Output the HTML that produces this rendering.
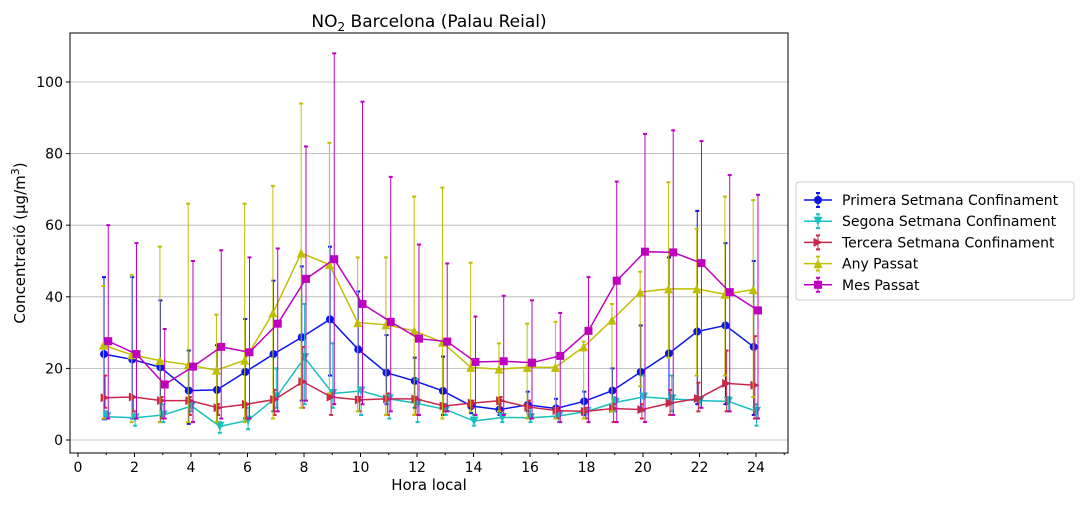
<!DOCTYPE html>
<html><head><meta charset="utf-8"><style>
body{margin:0;background:#fff;font-family:"Liberation Sans","DejaVu Sans",sans-serif}
svg text{font-family:"DejaVu Sans","Liberation Sans",sans-serif}
</style></head><body>
<svg id="c" width="1080" height="504"></svg>
<script>
const hours=[1,2,3,4,5,6,7,8,9,10,11,12,13,14,15,16,17,18,19,20,21,22,23,24];
const names=["Primera Setmana Confinament","Segona Setmana Confinament","Tercera Setmana Confinament","Any Passat","Mes Passat"];
const blueMean=[24,22.5,20.3,13.8,14,19,24,28.7,33.7,25.3,18.8,16.5,13.7,9.5,8.5,9.8,8.8,10.8,13.8,19,24.2,30.3,32,26];
const blueTop=[45.5,45.5,39,25,26.5,33.8,44.5,48.5,54,41.5,29.3,23,23.3,10.5,10,13.5,11.5,13.5,20,32,51,64,55,50];
const blueBot=[5.8,6,5,4.5,5,6,8,11,18,12,10,9,7,7.5,7,8,6.5,7,8,9,10,10,10,7];
const cyanMean=[6.5,6.2,7,9.5,3.8,5.5,12,23,13,13.7,11.5,10.2,8.5,5.3,6.3,6.2,6.7,8,10.5,12,11.5,11,10.8,8];
const cyanTop=[8,8,10,10,5,9,20,38,27,14,13,17,10,7,7,9,8,9,12,18,18,12,12,10];
const cyanBot=[6,4,5,8,2,3,9,10,9,7,6,5,7,4,5,5,5,6,8,8,8,9,8,4];
const redMean=[11.8,12,11,11,9,10,11.3,16.3,12,11.2,11.5,11.5,9.5,10.3,11,9.2,8.2,8,8.8,8.5,10.3,11.6,15.8,15.3];
const redTop=[18,12,12,12,10,10,14,26,13,12,13,12,10,11,12,11,9,9,10,10,14,16,25,29];
const redBot=[9,8,6,7,7,6,7,9,7,8,7,7,8,9,8,6,6,6,5,6,7,8,8,6];
const yelMean=[26.5,23.8,22.2,21,19.5,22.3,35.5,52.2,49,32.8,32.2,30.5,27.3,20.3,19.8,20.3,20.3,26,33.5,41.3,42.2,42.2,40.7,42];
const yelTop=[43,46,54,66,35,66,71,94,83,51,51,68,70.5,49.5,27,32.5,33,27.5,38,47,72,59,68,67];
const yelBot=[6,5,5,5,5,5,6,9,13,8,7,7,6,8,8,6,6,6,8,15,23,18,18,12];
const magMean=[27.6,24,15.5,20.5,26,24.5,32.5,45,50.5,38,33,28.3,27.5,21.8,22,21.6,23.5,30.5,44.5,52.6,52.4,49.4,41.3,36.2];
const magTop=[60,55,31,50,53,51,53.5,82,108,94.5,73.5,54.6,49.3,34.5,40.3,39,35.5,45.5,72.2,85.5,86.5,83.5,74,68.5];
const magBot=[6,6,6,5,6,6,8,11,10,10,8,7,8,7,7,6,5,5,5,5,7,9,8,6];
const xTicks=[0,2,4,6,8,10,12,14,16,18,20,22,24];
const yTicks=[0,20,40,60,80,100];

const L=70,R=788,T=33,B=453;
const X=h=>78+h*28.25, Y=v=>440-v*3.58;
const svg=document.getElementById('c');const NS='http://www.w3.org/2000/svg';
function el(t,a,p){const e=document.createElementNS(NS,t);for(const k in a)e.setAttribute(k,a[k]);(p||svg).appendChild(e);return e;}
function tx(x,y,s,a){const e=el('text',Object.assign({x:x,y:y,'font-size':14,fill:'#000'},a||{}));e.textContent=s;return e;}
// grid
yTicks.forEach(v=>{const g=el('line',{x1:L,x2:R,y1:Y(v),y2:Y(v),stroke:'#b0b0b0','stroke-width':0.8});

el('line',{x1:L-4,x2:L,y1:Y(v),y2:Y(v),stroke:'#000'});
const t=tx(L-7,Y(v)+5,String(v),{'text-anchor':'end'});});
for(let h=0;h<=25;h++){if(X(h)>R)break;el('line',{x1:X(h),x2:X(h),y1:B,y2:B+(h%2?2:4),stroke:'#000'});}
xTicks.forEach(h=>{const t=tx(X(h),B+19,String(h),{'text-anchor':'middle'});});
const series=[
{c:'#0a14f0',m:blueMean,t:blueTop,b:blueBot,off:-0.08,mk:'o',n:'blue'},
{c:'#17bfbf',m:cyanMean,t:cyanTop,b:cyanBot,off:0.02,mk:'v',n:'cyan'},
{c:'#c8284a',m:redMean,t:redTop,b:redBot,off:-0.04,mk:'>',n:'red'},
{c:'#bfbf00',m:yelMean,t:yelTop,b:yelBot,off:-0.1,mk:'^',n:'yellow'},
{c:'#bf00bf',m:magMean,t:magTop,b:magBot,off:0.07,mk:'s',n:'magenta'}];
function marker(k,x,y,c,p){let e;
if(k==='o')e=el('circle',{cx:x,cy:y,r:4,fill:c},p);
else if(k==='s')e=el('rect',{x:x-4,y:y-4,width:8,height:8,fill:c},p);
else{const s=4.5;let pts;
if(k==='^')pts=[[x,y-s],[x-s,y+s],[x+s,y+s]];
else if(k==='v')pts=[[x,y+s],[x-s,y-s],[x+s,y-s]];
else pts=[[x+s,y],[x-s,y-s],[x-s,y+s]];
e=el('polygon',{points:pts.map(p=>p.join(',')).join(' '),fill:c},p);}
return e;}
series.forEach(s=>{
const g=el('g',{});
hours.forEach((h,i)=>{const x=X(h+s.off);
const eb=el('g',{},g);
el('line',{x1:x,x2:x,y1:Y(s.t[i]),y2:Y(s.b[i]),stroke:s.c,'stroke-width':1},eb);
el('line',{x1:x-2,x2:x+2,y1:Y(s.t[i]),y2:Y(s.t[i]),stroke:s.c,'stroke-width':2},eb);
el('line',{x1:x-2,x2:x+2,y1:Y(s.b[i]),y2:Y(s.b[i]),stroke:s.c,'stroke-width':2},eb);});
el('polyline',{points:hours.map((h,i)=>X(h+s.off)+','+Y(s.m[i])).join(' '),fill:'none',stroke:s.c,'stroke-width':1.5},g);
hours.forEach((h,i)=>{const m=marker(s.mk,X(h+s.off),Y(s.m[i]),s.c,g);});
});
const fr=el('rect',{x:L,y:T,width:R-L,height:B-T,fill:'none',stroke:'#000','stroke-width':1});

const ti=tx(429,27,'',{'text-anchor':'middle','font-size':17});
ti.innerHTML='NO<tspan font-size="12" dy="4">2</tspan><tspan dy="-4"> Barcelona (Palau Reial)</tspan>';
const xl=tx(429,490,'Hora local',{'text-anchor':'middle','font-size':15});
const yl=tx(0,0,'',{'text-anchor':'middle','font-size':15,transform:'translate(25,243) rotate(-90)'});

yl.innerHTML='Concentració (µg/m<tspan font-size="11" dy="-6">3</tspan><tspan dy="6">)</tspan>';
const lg=el('g',{});
el('rect',{x:796,y:182,width:278,height:118,rx:3,fill:'#fff',stroke:'#ccc'},lg);
series.forEach((s,i)=>{const y=200+i*21.2;
const e=el('g',{},lg);
el('line',{x1:804,x2:832,y1:y,y2:y,stroke:s.c,'stroke-width':1.5},e);
el('line',{x1:818,x2:818,y1:y-7,y2:y+7,stroke:s.c,'stroke-width':1},e);
el('line',{x1:816,x2:820,y1:y-7,y2:y-7,stroke:s.c,'stroke-width':2},e);
el('line',{x1:816,x2:820,y1:y+7,y2:y+7,stroke:s.c,'stroke-width':2},e);
marker(s.mk,818,y,s.c,e);
tx(842,y+5,names[i],{},e);});
</script>
</body></html>
